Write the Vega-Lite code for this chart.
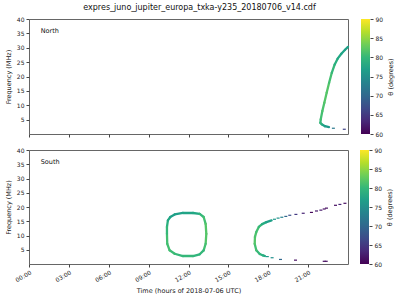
{
  "$schema": "https://vega.github.io/schema/vega-lite/v6.json",
  "title": {"text": "expres_juno_jupiter_europa_txka-y235_20180706_v14.cdf", "font": "DejaVu Sans", "fontSize": 8, "fontWeight": "normal", "color": "#111", "anchor": "middle", "offset": 4},
  "padding": {"left": 4, "right": 2, "top": 3, "bottom": 2},
  "datasets": {
    "segs": [
      {"p": "N", "t": 22.57, "f": 2.4, "t2": 22.27, "f2": 2.7, "theta": 76},
      {"p": "N", "t": 22.27, "f": 2.7, "t2": 22.02, "f2": 3.4, "theta": 77},
      {"p": "N", "t": 22.02, "f": 3.4, "t2": 21.92, "f2": 3.9, "theta": 79},
      {"p": "N", "t": 21.92, "f": 3.9, "t2": 21.95, "f2": 5.1, "theta": 80},
      {"p": "N", "t": 21.95, "f": 5.1, "t2": 22.07, "f2": 8.0, "theta": 81},
      {"p": "N", "t": 22.07, "f": 8.0, "t2": 22.22, "f2": 10.9, "theta": 81.5},
      {"p": "N", "t": 22.22, "f": 10.9, "t2": 22.4, "f2": 14.4, "theta": 82},
      {"p": "N", "t": 22.4, "f": 14.4, "t2": 22.58, "f2": 17.8, "theta": 82},
      {"p": "N", "t": 22.58, "f": 17.8, "t2": 22.78, "f2": 21.3, "theta": 81},
      {"p": "N", "t": 22.78, "f": 21.3, "t2": 23.0, "f2": 24.2, "theta": 80},
      {"p": "N", "t": 23.0, "f": 24.2, "t2": 23.22, "f2": 26.2, "theta": 79},
      {"p": "N", "t": 23.22, "f": 26.2, "t2": 23.5, "f2": 27.9, "theta": 78},
      {"p": "N", "t": 23.5, "f": 27.9, "t2": 23.78, "f2": 29.3, "theta": 77.5},
      {"p": "N", "t": 23.78, "f": 29.3, "t2": 24.0, "f2": 30.3, "theta": 77},
      {"p": "S", "t": 10.38, "f": 13.0, "t2": 10.45, "f2": 15.3, "theta": 79},
      {"p": "S", "t": 10.45, "f": 15.3, "t2": 10.63, "f2": 16.5, "theta": 78},
      {"p": "S", "t": 10.63, "f": 16.5, "t2": 10.96, "f2": 17.4, "theta": 77},
      {"p": "S", "t": 10.96, "f": 17.4, "t2": 11.58, "f2": 17.9, "theta": 77},
      {"p": "S", "t": 11.58, "f": 17.9, "t2": 12.34, "f2": 17.9, "theta": 77.5},
      {"p": "S", "t": 12.34, "f": 17.9, "t2": 12.84, "f2": 17.6, "theta": 78},
      {"p": "S", "t": 12.84, "f": 17.6, "t2": 13.14, "f2": 16.5, "theta": 80},
      {"p": "S", "t": 13.14, "f": 16.5, "t2": 13.29, "f2": 14.1, "theta": 81},
      {"p": "S", "t": 13.29, "f": 14.1, "t2": 13.34, "f2": 10.6, "theta": 82},
      {"p": "S", "t": 13.34, "f": 10.6, "t2": 13.29, "f2": 7.1, "theta": 82},
      {"p": "S", "t": 13.29, "f": 7.1, "t2": 13.14, "f2": 4.8, "theta": 81},
      {"p": "S", "t": 13.14, "f": 4.8, "t2": 12.84, "f2": 3.4, "theta": 80},
      {"p": "S", "t": 12.84, "f": 3.4, "t2": 12.34, "f2": 2.8, "theta": 79.5},
      {"p": "S", "t": 12.34, "f": 2.8, "t2": 11.58, "f2": 2.8, "theta": 80},
      {"p": "S", "t": 11.58, "f": 2.8, "t2": 10.96, "f2": 3.6, "theta": 80},
      {"p": "S", "t": 10.96, "f": 3.6, "t2": 10.58, "f2": 4.8, "theta": 80.5},
      {"p": "S", "t": 10.58, "f": 4.8, "t2": 10.4, "f2": 7.1, "theta": 81},
      {"p": "S", "t": 10.4, "f": 7.1, "t2": 10.38, "f2": 10.6, "theta": 81},
      {"p": "S", "t": 10.38, "f": 10.6, "t2": 10.38, "f2": 13.0, "theta": 80},
      {"p": "S", "t": 17.75, "f": 2.8, "t2": 17.61, "f2": 3.0, "theta": 78},
      {"p": "S", "t": 17.61, "f": 3.0, "t2": 17.36, "f2": 3.5, "theta": 79},
      {"p": "S", "t": 17.36, "f": 3.5, "t2": 17.1, "f2": 4.8, "theta": 80},
      {"p": "S", "t": 17.1, "f": 4.8, "t2": 16.98, "f2": 7.1, "theta": 81},
      {"p": "S", "t": 16.98, "f": 7.1, "t2": 17.0, "f2": 9.5, "theta": 82},
      {"p": "S", "t": 17.0, "f": 9.5, "t2": 17.1, "f2": 11.2, "theta": 81.5},
      {"p": "S", "t": 17.1, "f": 11.2, "t2": 17.29, "f2": 13.0, "theta": 81},
      {"p": "S", "t": 17.29, "f": 13.0, "t2": 17.54, "f2": 14.0, "theta": 80},
      {"p": "S", "t": 17.54, "f": 14.0, "t2": 17.86, "f2": 14.7, "theta": 78.5},
      {"p": "S", "t": 17.86, "f": 14.7, "t2": 18.25, "f2": 15.3, "theta": 77}
    ],
    "dots": [
      {"p": "N", "t": 22.9, "f": 2.0, "theta": 72},
      {"p": "N", "t": 23.72, "f": 1.65, "theta": 66},
      {"p": "S", "t": 17.93, "f": 2.6, "theta": 76},
      {"p": "S", "t": 18.29, "f": 2.2, "theta": 75},
      {"p": "S", "t": 18.92, "f": 1.6, "theta": 70},
      {"p": "S", "t": 20.05, "f": 1.35, "theta": 61},
      {"p": "S", "t": 22.21, "f": 0.95, "theta": 61},
      {"p": "S", "t": 22.36, "f": 0.95, "theta": 61},
      {"p": "S", "t": 18.47, "f": 15.7, "theta": 76},
      {"p": "S", "t": 18.74, "f": 16.1, "theta": 75},
      {"p": "S", "t": 19.02, "f": 16.4, "theta": 73},
      {"p": "S", "t": 19.32, "f": 16.7, "theta": 70},
      {"p": "S", "t": 19.62, "f": 17.1, "theta": 67},
      {"p": "S", "t": 20.08, "f": 17.4, "theta": 65},
      {"p": "S", "t": 20.63, "f": 17.8, "theta": 63},
      {"p": "S", "t": 21.25, "f": 18.1, "theta": 60.5},
      {"p": "S", "t": 21.63, "f": 18.6, "theta": 62},
      {"p": "S", "t": 21.96, "f": 18.9, "theta": 62},
      {"p": "S", "t": 22.21, "f": 19.3, "theta": 61},
      {"p": "S", "t": 22.38, "f": 19.6, "theta": 61},
      {"p": "S", "t": 23.06, "f": 20.6, "theta": 61},
      {"p": "S", "t": 23.39, "f": 20.9, "theta": 63},
      {"p": "S", "t": 23.77, "f": 21.3, "theta": 61}
    ],
    "labels": [
      {"p": "N", "t": 0.88, "f": 35.8, "label": "North"},
      {"p": "S", "t": 0.88, "f": 35.8, "label": "South"}
    ],
    "cbar": [
      {"lo": 60, "hi": 90}
    ]
  },
  "spacing": 8,
  "vconcat": [
    {
      "spacing": 11,
      "hconcat": [
        {
          "width": 319,
          "height": 115,
          "encoding": {
            "x": {"field": "t", "type": "quantitative", "scale": {"domain": [0, 24]}, "axis": {"values": [0, 3, 6, 9, 12, 15, 18, 21], "labels": false, "title": null}},
            "y": {"field": "f", "type": "quantitative", "scale": {"domain": [0, 40]}, "axis": {"values": [5, 10, 15, 20, 25, 30, 35, 40], "labelOverlap": false, "title": "Frequency (MHz)"}}
          },
          "layer": [
            {
              "data": {"name": "segs"},
              "transform": [{"filter": "datum.p === 'N'"}],
              "mark": {"type": "rule", "strokeWidth": 2.3, "strokeCap": "round"},
              "encoding": {
                "x2": {"field": "t2"},
                "y2": {"field": "f2"},
                "color": {"field": "theta", "type": "quantitative", "scale": {"scheme": "viridis", "domain": [60, 90]}, "legend": null}
              }
            },
            {
              "data": {"name": "dots"},
              "transform": [{"filter": "datum.p === 'N'"}],
              "mark": {"type": "point", "shape": "M-1,-0.4H1V0.4H-1Z", "size": 9, "filled": true, "opacity": 1, "strokeWidth": 0},
              "encoding": {
                "color": {"field": "theta", "type": "quantitative", "legend": null}
              }
            },
            {
              "data": {"name": "labels"},
              "transform": [{"filter": "datum.p === 'N'"}],
              "mark": {"type": "text", "align": "left", "baseline": "middle", "font": "DejaVu Sans", "fontSize": 6.5, "color": "#111"},
              "encoding": {
                "text": {"field": "label"}
              }
            }
          ]
        },
        {
          "width": 9,
          "height": 115,
          "view": {"stroke": null},
          "data": {"name": "cbar"},
          "mark": {"type": "rect", "fill": {"gradient": "linear", "x1": 0, "y1": 1, "x2": 0, "y2": 0, "stops": [{"offset": 0, "color": "#440154"}, {"offset": 0.111, "color": "#482878"}, {"offset": 0.222, "color": "#3e4a89"}, {"offset": 0.333, "color": "#31688e"}, {"offset": 0.444, "color": "#26828e"}, {"offset": 0.556, "color": "#1f9e89"}, {"offset": 0.667, "color": "#35b779"}, {"offset": 0.778, "color": "#6ece58"}, {"offset": 0.889, "color": "#b5de2b"}, {"offset": 1, "color": "#fde725"}]}},
          "encoding": {
            "y": {"field": "lo", "type": "quantitative", "scale": {"domain": [60, 90], "nice": false, "zero": false}, "axis": {"orient": "right", "values": [60, 65, 70, 75, 80, 85, 90], "labelOverlap": false, "title": "θ (degrees)", "titleAngle": 270, "titleBaseline": "top", "titlePadding": 5}},
            "y2": {"field": "hi"}
          }
        }
      ]
    },
    {
      "spacing": 11,
      "hconcat": [
        {
          "width": 319,
          "height": 114,
          "encoding": {
            "x": {"field": "t", "type": "quantitative", "scale": {"domain": [0, 24]}, "axis": {"values": [0, 3, 6, 9, 12, 15, 18, 21], "labelExpr": "pad(toString(datum.value), 2, '0', 'left') + ':00'", "labelAngle": -30, "labelAlign": "right", "labelBaseline": "top", "title": "Time (hours of 2018-07-06 UTC)"}},
            "y": {"field": "f", "type": "quantitative", "scale": {"domain": [0, 40]}, "axis": {"values": [5, 10, 15, 20, 25, 30, 35, 40], "labelOverlap": false, "title": "Frequency (MHz)"}}
          },
          "layer": [
            {
              "data": {"name": "segs"},
              "transform": [{"filter": "datum.p === 'S'"}],
              "mark": {"type": "rule", "strokeWidth": 2.3, "strokeCap": "round"},
              "encoding": {
                "x2": {"field": "t2"},
                "y2": {"field": "f2"},
                "color": {"field": "theta", "type": "quantitative", "scale": {"scheme": "viridis", "domain": [60, 90]}, "legend": null}
              }
            },
            {
              "data": {"name": "dots"},
              "transform": [{"filter": "datum.p === 'S'"}],
              "mark": {"type": "point", "shape": "M-1,-0.4H1V0.4H-1Z", "size": 9, "filled": true, "opacity": 1, "strokeWidth": 0},
              "encoding": {
                "color": {"field": "theta", "type": "quantitative", "legend": null}
              }
            },
            {
              "data": {"name": "labels"},
              "transform": [{"filter": "datum.p === 'S'"}],
              "mark": {"type": "text", "align": "left", "baseline": "middle", "font": "DejaVu Sans", "fontSize": 6.5, "color": "#111"},
              "encoding": {
                "text": {"field": "label"}
              }
            }
          ]
        },
        {
          "width": 9,
          "height": 114,
          "view": {"stroke": null},
          "data": {"name": "cbar"},
          "mark": {"type": "rect", "fill": {"gradient": "linear", "x1": 0, "y1": 1, "x2": 0, "y2": 0, "stops": [{"offset": 0, "color": "#440154"}, {"offset": 0.111, "color": "#482878"}, {"offset": 0.222, "color": "#3e4a89"}, {"offset": 0.333, "color": "#31688e"}, {"offset": 0.444, "color": "#26828e"}, {"offset": 0.556, "color": "#1f9e89"}, {"offset": 0.667, "color": "#35b779"}, {"offset": 0.778, "color": "#6ece58"}, {"offset": 0.889, "color": "#b5de2b"}, {"offset": 1, "color": "#fde725"}]}},
          "encoding": {
            "y": {"field": "lo", "type": "quantitative", "scale": {"domain": [60, 90], "nice": false, "zero": false}, "axis": {"orient": "right", "values": [60, 65, 70, 75, 80, 85, 90], "labelOverlap": false, "title": "θ (degrees)", "titleAngle": 270, "titleBaseline": "top", "titlePadding": 5}},
            "y2": {"field": "hi"}
          }
        }
      ]
    }
  ],
  "config": {
    "font": "DejaVu Sans",
    "view": {"stroke": "#666", "strokeWidth": 1},
    "axis": {"grid": false, "domain": false, "labelFont": "DejaVu Sans", "labelFontSize": 6, "labelColor": "#222", "titleFont": "DejaVu Sans", "titleFontSize": 6.5, "titleFontWeight": "normal", "titleColor": "#222", "tickColor": "#444", "tickSize": 3, "labelPadding": 2, "titlePadding": 5}
  }
}
